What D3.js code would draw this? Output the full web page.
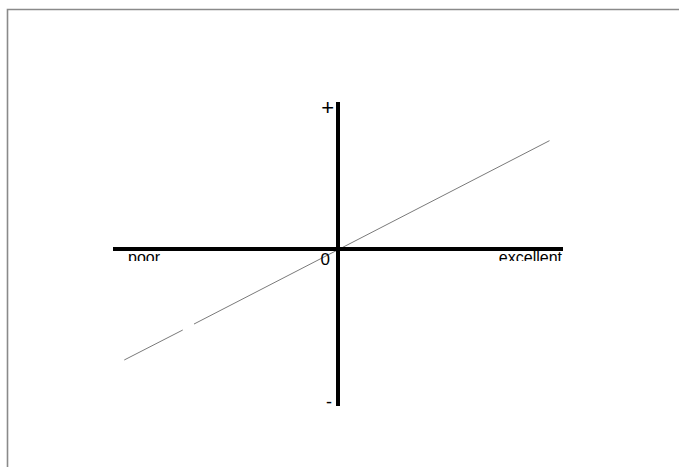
<!DOCTYPE html>
<html>
<head>
<meta charset="utf-8">
<script src="https://cdn.jsdelivr.net/npm/d3@7"></script>
<style>
  html, body { margin: 0; padding: 0; background: #fff; overflow: hidden; }
  svg { display: block; }
  text { font-family: Arial, "Liberation Sans", sans-serif; }
</style>
</head>
<body>
<script>
// ---- data ----
const xDomain = [-10, 10];          // poor ... excellent
const yDomain = [-10, 0, 10];       // - ... 0 ... +
const xLabels = ["poor", "excellent"];
const yLabels = ["+", "0", "-"];
// line segments (one gap between them)
const seg1X = [-9.5, -6.9];
const seg1Y = [-7.07, -5.16];
const seg2X = [-6.4, 9.4];
const seg2Y = [-4.78, 7.37];

const W = 679, H = 467;
const svg = d3.select("body").append("svg").attr("width", W).attr("height", H);

// frame (top and left edges visible)
svg.append("path").attr("d", `M7.5,${H}V9.5H${W}`)
  .attr("fill", "none").attr("stroke", "#8a8a8a").attr("stroke-width", 1.6);

const x = d3.scaleLinear().domain(xDomain).range([113, 563]);
const y = d3.scaleLinear().domain(yDomain).range([406, 249, 102]);

// clip for bottom labels
svg.append("clipPath").attr("id", "lblclip")
  .append("rect").attr("x", 0).attr("y", 0).attr("width", W).attr("height", 261);

// data line
const line = d3.line().x(d => x(d[0])).y(d => y(d[1]));
[[seg1X, seg1Y], [seg2X, seg2Y]].forEach(([sx, sy]) => {
  svg.append("path")
    .datum(sx.map((v, i) => [v, sy[i]]))
    .attr("d", line)
    .attr("fill", "none").attr("stroke", "#7a7a7a").attr("stroke-width", 1);
});

// horizontal axis
svg.append("line")
  .attr("x1", x(xDomain[0])).attr("x2", x(xDomain[1]))
  .attr("y1", y(0)).attr("y2", y(0))
  .attr("stroke", "#000").attr("stroke-width", 4);
// vertical axis
svg.append("line")
  .attr("x1", x(0)).attr("x2", x(0))
  .attr("y1", y(yDomain[2])).attr("y2", y(yDomain[0]))
  .attr("stroke", "#000").attr("stroke-width", 4);

// x labels (clipped)
const lg = svg.append("g").attr("clip-path", "url(#lblclip)");
lg.append("text").attr("x", x(xDomain[0]) + 15).attr("y", y(0) + 14)
  .attr("font-size", 16).attr("text-anchor", "start").text(xLabels[0]);
lg.append("text").attr("x", x(xDomain[1]) - 1).attr("y", y(0) + 14)
  .attr("font-size", 16).attr("text-anchor", "end").text(xLabels[1]);

// y labels
svg.append("text").attr("x", x(0) - 4).attr("y", y(yDomain[2]) + 13)
  .attr("font-size", 22).attr("text-anchor", "end").text(yLabels[0]);
svg.append("text").attr("x", x(0) - 8).attr("y", y(0) + 16)
  .attr("font-size", 17).attr("text-anchor", "end").text(yLabels[1]);
svg.append("text").attr("x", x(0) - 6).attr("y", y(yDomain[0]) + 2)
  .attr("font-size", 18).attr("text-anchor", "end").text(yLabels[2]);
</script>
</body>
</html>
